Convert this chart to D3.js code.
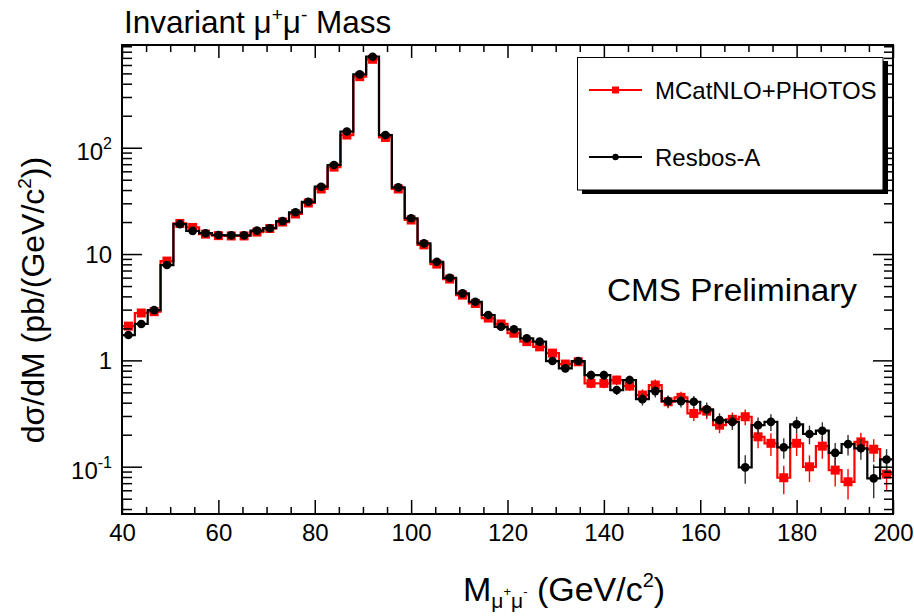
<!DOCTYPE html>
<html><head><meta charset="utf-8">
<script src="https://cdn.jsdelivr.net/npm/d3@7"></script>
<style>
body{margin:0;background:#fff}
text{font-family:"Liberation Sans",Arial,Helvetica,sans-serif;fill:#000}
</style>
</head><body>
<svg id="chart" width="914" height="616"></svg>
<script>
// ---- data ----
const massMin = 40, massMax = 200, nBins = 60;
const xMajorTicks = [40, 60, 80, 100, 120, 140, 160, 180, 200];
const yMajorTicks = [0.1, 1, 10, 100];
const yTickLabels = [["10", "-1"], ["1", ""], ["10", ""], ["10", "2"]];
const yDomain = [0.0359, 925];

// MCatNLO+PHOTOS (red)
const mcatnlo = [2.10, 2.79, 2.87, 8.59, 19.4, 17.8, 15.4, 14.9, 14.8, 14.8,
  16.1, 17.4, 20.0, 23.8, 30.2, 40.9, 65.7, 131.6, 466, 679,
  125, 40.9, 20.9, 12.2, 8.05, 5.82, 4.11, 3.43, 2.50, 2.20,
  1.80, 1.50, 1.34, 1.17, 0.923, 0.970, 0.608, 0.608, 0.653, 0.573,
  0.472, 0.586, 0.408, 0.449, 0.317, 0.333, 0.246, 0.279, 0.295, 0.191,
  0.166, 0.0787, 0.166, 0.0998, 0.156, 0.0929, 0.0721, 0.171, 0.146, 0.0851];
// Resbos-A (black)
const resbos = [1.73, 2.20, 2.97, 7.88, 19.1, 16.5, 15.7, 15.1, 15.0, 15.0,
  16.6, 17.5, 20.4, 24.7, 31.0, 43.0, 68.8, 142, 490, 718,
  131.6, 42.4, 21.7, 12.6, 8.46, 5.98, 4.27, 3.56, 2.67, 2.07,
  1.96, 1.61, 1.50, 0.985, 0.841, 0.985, 0.727, 0.727, 0.526, 0.653,
  0.432, 0.514, 0.414, 0.414, 0.408, 0.346, 0.274, 0.264, 0.0985, 0.246,
  0.264, 0.152, 0.250, 0.203, 0.218, 0.135, 0.163, 0.149, 0.0776, 0.117];
// relative statistical errors
const mcatnloRelErr = [0.04,0.04,0.04,0.03,0.02,0.02,0.02,0.02,0.02,0.02,
  0.02,0.02,0.02,0.02,0.02,0.02,0.02,0.01,0.01,0.01,
  0.01,0.02,0.02,0.02,0.02,0.04,0.04,0.04,0.04,0.04,
  0.06,0.06,0.06,0.08,0.08,0.08,0.10,0.10,0.10,0.10,
  0.13,0.13,0.13,0.13,0.15,0.16,0.16,0.16,0.17,0.22,
  0.24,0.30,0.24,0.28,0.24,0.30,0.32,0.22,0.24,0.30];
const resbosRelErr = [0.04,0.04,0.04,0.03,0.02,0.02,0.02,0.02,0.02,0.02,
  0.02,0.02,0.02,0.02,0.02,0.02,0.02,0.01,0.01,0.01,
  0.01,0.02,0.02,0.02,0.02,0.04,0.04,0.04,0.04,0.04,
  0.06,0.06,0.06,0.08,0.08,0.08,0.10,0.10,0.10,0.10,
  0.13,0.13,0.13,0.13,0.13,0.16,0.16,0.16,0.30,0.18,
  0.18,0.22,0.18,0.20,0.20,0.24,0.22,0.22,0.35,0.25];
const seriesNames = ["MCatNLO+PHOTOS", "Resbos-A"];

// ---- layout ----
const L = 122, R = 893, T = 45, B = 514;
const svg = d3.select("#chart");
svg.append("rect").attr("width", 914).attr("height", 616).attr("fill", "#fff");

const x = d3.scaleLinear().domain([massMin, massMax]).range([L, R]);
const y = d3.scaleLog().domain(yDomain).range([B, T]);

const edges = d3.range(nBins + 1).map(i => massMin + i * (massMax - massMin) / nBins);
const centers = d3.range(nBins).map(i => (edges[i] + edges[i + 1]) / 2);

svg.append("clipPath").attr("id", "clip").append("rect")
  .attr("x", L).attr("y", T).attr("width", R - L).attr("height", B - T);

const plot = svg.append("g").attr("clip-path", "url(#clip)");
const line = d3.line().x(d => x(d[0])).y(d => y(d[1])).curve(d3.curveStepAfter);

function drawSeries(vals, errs, color, marker) {
  const pts = vals.map((v, i) => [edges[i], v]).concat([[edges[nBins], vals[nBins - 1]]]);
  plot.append("path").attr("d", line(pts)).attr("fill", "none")
    .attr("stroke", color).attr("stroke-width", 2.2);
  plot.append("g").selectAll("line").data(vals).join("line")
    .attr("x1", (d, i) => x(centers[i])).attr("x2", (d, i) => x(centers[i]))
    .attr("y1", (d, i) => y(d * (1 + errs[i])))
    .attr("y2", (d, i) => y(Math.max(d * (1 - errs[i]), 1e-6)))
    .attr("stroke", color === "#000" ? "#333" : color).attr("stroke-width", 1.4);
  const g = plot.append("g");
  if (marker === "square") {
    g.selectAll("rect").data(vals).join("rect")
      .attr("x", (d, i) => x(centers[i]) - 4.5).attr("y", d => y(d) - 4.5)
      .attr("width", 9).attr("height", 9).attr("fill", color);
  } else {
    g.selectAll("circle").data(vals).join("circle")
      .attr("cx", (d, i) => x(centers[i])).attr("cy", d => y(d))
      .attr("r", 4.3).attr("fill", color);
  }
}
drawSeries(mcatnlo, mcatnloRelErr, "#ff0000", "square");
drawSeries(resbos, resbosRelErr, "#000", "circle");

// ---- axes ----
const xMinor = d3.range(massMin, massMax + 0.1, 5).filter(v => !xMajorTicks.includes(v));
const yMinor = [];
[-2, -1, 0, 1, 2].forEach(p => { for (let k = 2; k <= 9; k++) { const v = k * Math.pow(10, p); if (v >= yDomain[0] && v <= yDomain[1]) yMinor.push(+v.toPrecision(3)); } });

function styleAxis(g) {
  g.select(".domain").remove();
  g.selectAll(".tick line").attr("stroke", "#000").attr("stroke-width", 1.5);
}
// bottom
svg.append("g").attr("transform", `translate(0,${B})`)
  .call(d3.axisBottom(x).tickValues(xMajorTicks).tickSize(-14).tickPadding(10).tickFormat(d3.format("d")))
  .call(styleAxis)
  .call(g => g.selectAll("text").attr("font-size", 24).attr("font-family", "Liberation Sans, Arial, sans-serif").attr("fill", "#000"));
svg.append("g").attr("transform", `translate(0,${B})`)
  .call(d3.axisBottom(x).tickValues(xMinor).tickSize(-7).tickFormat(""))
  .call(styleAxis);
// top
svg.append("g").attr("transform", `translate(0,${T})`)
  .call(d3.axisTop(x).tickValues(xMajorTicks).tickSize(-13).tickFormat(""))
  .call(styleAxis);
svg.append("g").attr("transform", `translate(0,${T})`)
  .call(d3.axisTop(x).tickValues(xMinor).tickSize(-7).tickFormat(""))
  .call(styleAxis);
// left
const yl = svg.append("g").attr("transform", `translate(${L},0)`)
  .call(d3.axisLeft(y).tickValues(yMajorTicks).tickSize(-20).tickPadding(10).tickFormat(""))
  .call(styleAxis);
yl.selectAll(".tick").each(function (d, i) {
  const lab = yTickLabels[i];
  const t = d3.select(this).select("text")
    .attr("font-size", 24).attr("font-family", "Liberation Sans, Arial, sans-serif").attr("fill", "#000")
    .attr("dy", lab[1] ? "0.5em" : "0.35em").text(null);
  t.append("tspan").text(lab[0]);
  if (lab[1]) t.append("tspan").attr("font-size", 16).attr("dy", -11).text(lab[1]);
});
svg.append("g").attr("transform", `translate(${L},0)`)
  .call(d3.axisLeft(y).tickValues(yMinor).tickSize(-10).tickFormat(""))
  .call(styleAxis);
// right
svg.append("g").attr("transform", `translate(${R},0)`)
  .call(d3.axisRight(y).tickValues(yMajorTicks).tickSize(-20).tickFormat(""))
  .call(styleAxis);
svg.append("g").attr("transform", `translate(${R},0)`)
  .call(d3.axisRight(y).tickValues(yMinor).tickSize(-9).tickFormat(""))
  .call(styleAxis);

// frame
svg.append("rect").attr("x", L).attr("y", T).attr("width", R - L).attr("height", B - T)
  .attr("fill", "none").attr("stroke", "#000").attr("stroke-width", 2);

// ---- titles ----
const title = svg.append("text").attr("x", 124).attr("y", 33).attr("font-size", 31.5);
title.append("tspan").text("Invariant μ");
title.append("tspan").attr("font-size", 19).attr("dy", -12).text("+");
title.append("tspan").attr("dy", 12).text("μ");
title.append("tspan").attr("font-size", 19).attr("dy", -12).text("-");
title.append("tspan").attr("dy", 12).text(" Mass");

const xt = svg.append("text").attr("x", 463).attr("y", 601).attr("font-size", 34);
xt.append("tspan").text("M");
xt.append("tspan").attr("font-size", 21).attr("dy", 7).text("μ");
xt.append("tspan").attr("font-size", 13).attr("dy", -12).text("+");
xt.append("tspan").attr("font-size", 21).attr("dy", 12).text("μ");
xt.append("tspan").attr("font-size", 13).attr("dy", -12).text("-");
xt.append("tspan").attr("dy", 5).text(" (GeV/c");
xt.append("tspan").attr("font-size", 20).attr("dy", -14).text("2");
xt.append("tspan").attr("dy", 14).text(")");

const yt = svg.append("text").attr("transform", "translate(44,300) rotate(-90)")
  .attr("text-anchor", "middle").attr("font-size", 32);
yt.append("tspan").text("dσ/dM (pb/(GeV/c");
yt.append("tspan").attr("font-size", 19).attr("dy", -13).text("2");
yt.append("tspan").attr("dy", 13).text("))");

svg.append("text").attr("x", 607).attr("y", 301).attr("font-size", 31)
  .attr("textLength", 250).attr("lengthAdjust", "spacingAndGlyphs").text("CMS Preliminary");

// ---- legend ----
const lg = svg.append("g");
lg.append("rect").attr("x", 582).attr("y", 61).attr("width", 306).attr("height", 133).attr("fill", "#000");
lg.append("rect").attr("x", 577.5).attr("y", 57.5).attr("width", 305.5).attr("height", 132.5)
  .attr("fill", "#fff").attr("stroke", "#000").attr("stroke-width", 1);
const legendItems = [
  { name: seriesNames[0], color: "#ff0000", marker: "square", ly: 90 },
  { name: seriesNames[1], color: "#000", marker: "circle", ly: 157 }
];
legendItems.forEach(it => {
  lg.append("line").attr("x1", 589).attr("x2", 642).attr("y1", it.ly).attr("y2", it.ly)
    .attr("stroke", it.color).attr("stroke-width", 2);
  if (it.marker === "square") lg.append("rect").attr("x", 612).attr("y", it.ly - 3.5).attr("width", 7).attr("height", 7).attr("fill", it.color);
  else lg.append("circle").attr("cx", 615.5).attr("cy", it.ly).attr("r", 3.2).attr("fill", it.color);
  lg.append("text").attr("x", 655).attr("y", it.ly + 9).attr("font-size", 24).text(it.name);
});
</script>
</body></html>
